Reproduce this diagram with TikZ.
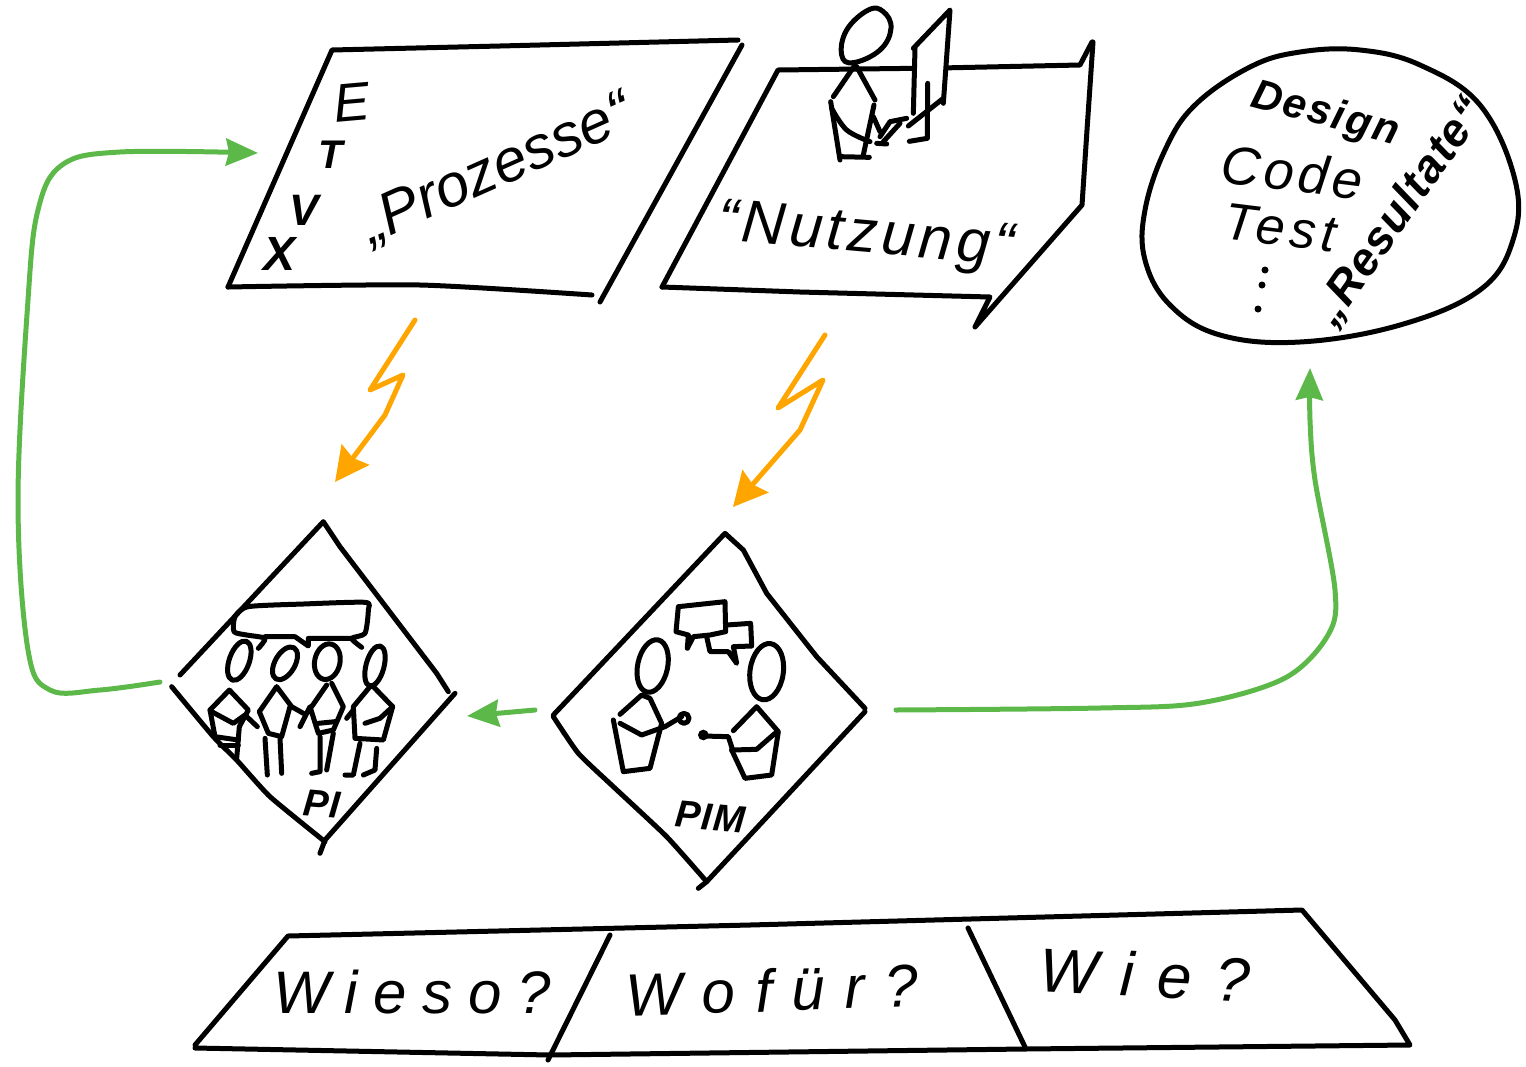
\documentclass[tikz,border=0pt]{standalone}
\usepackage{fontspec}
\setmainfont{Liberation Sans}
\usetikzlibrary{arrows.meta}
\definecolor{grn}{HTML}{5DB84A}
\definecolor{org}{HTML}{FFA500}
\tikzset{
 ink/.style={draw=black,line width=5pt,line cap=round,line join=round},
 greenarrow/.style={draw=grn,line width=5pt,line cap=round,line join=round,-{Stealth[length=32pt,width=27pt,inset=3pt]}},
 boltarrow/.style={draw=org,line width=5pt,line cap=round,line join=round,-{Stealth[length=34pt,width=34pt,inset=4pt]}},
 hand/.style={inner sep=0pt,text=black},
}
\newcommand{\lsp}[1]{\addfontfeature{LetterSpace=#1}}
\newcommand{\fs}[1]{\fontsize{#1}{#1}\selectfont}
\begin{document}
\begin{tikzpicture}[x=1pt,y=-1pt]
\useasboundingbox (0,0) rectangle (1526,1066);
% frame Prozesse
\draw[ink] (228,287)--(332,50)--(500,46)--(738,40);
\draw[ink] (742,45)--(600,302);
\draw[ink] plot[smooth,tension=.4] coordinates {(228,287)(420,285)(592,295)};
% frame Nutzung
\draw[ink] (662,287)--(778,70)--(940,68)--(1080,65)--(1092,42);
\draw[ink] (1093,42)--(1087,130)--(1082,205)--(975,327)--(990,297)--(800,292)--(662,287);
% person + screen
\begin{scope}[shift={(780,0)},scale=1/3]
\fill[white] (400,140) -- (510,30) -- (490,310) -- (400,340) -- cycle;
\draw[ink] plot[smooth cycle,tension=.7] coordinates {(265,30)(310,35)(333,85)(300,150)(220,188)(185,165)(200,90)};
\draw[ink] (225,195)--(160,290);
\draw[ink] (230,200)--(285,300);
\draw[ink] (152,305)--(180,480);
\draw[ink] plot[smooth,tension=.6] coordinates {(155,325)(200,390)(270,425)};
\draw[ink] (180,470)--(268,472);
\draw[ink] (282,315)--(250,465);
\draw[ink] (280,350)--(300,395);
\draw[ink] (290,430)--(320,432);
\draw[ink] (300,410)--(330,365)--(380,355);
\draw[ink] (360,370)--(310,425);
\draw[ink] (400,145)--(510,30)--(490,310);
\draw[ink] (405,145)--(400,340);
\draw[ink] (385,378)--(490,295);
\draw[ink] (443,250)--(442,415)--(388,424);
\end{scope}
% blob
\draw[ink] plot[smooth cycle,tension=.65] coordinates {(1195,105)(1250,67)(1300,52)(1360,50)(1420,65)(1480,105)(1515,180)(1513,240)(1480,290)(1400,325)(1300,342)(1220,335)(1170,305)(1145,260)(1145,210)(1165,150)};
% Texts
\node[hand,font=\itshape\fs{54},rotate=5] (tE) at (352,102) {E};
\node[hand,font=\itshape\bfseries\fs{40}] (tT) at (331,155) {T};
\node[hand,font=\itshape\bfseries\fs{44}] (tV) at (304,210) {V};
\node[hand,font=\itshape\bfseries\fs{48}] (tX) at (280,254) {X};
\node[hand,font=\itshape\fs{60},rotate=24] (tP) at (497,170) {„Prozesse“};
\node[hand,font=\itshape\fs{60}\lsp{7},rotate=-5] (tN) at (866,238) {“Nutzung“};
\node[hand,font=\itshape\bfseries\fs{42}\lsp{5},rotate=-15] (tD) at (1325,115) {Design};
\node[hand,font=\itshape\fs{54}\lsp{8},rotate=-7] (tC) at (1292,172) {Code};
\node[hand,font=\itshape\fs{52}\lsp{10},rotate=-7] (tTe) at (1280,228) {Test};
\fill (1265,270) circle (3.5pt) (1262,285) circle (3.5pt) (1258,309) circle (3.5pt);
\node[hand,font=\itshape\bfseries\fs{46}\lsp{3},rotate=55] (tR) at (1400,212) {„Resultate“};
% bolts
\coordinate (bolt1s) at (415,320);
\coordinate (piTop) at (335,482);
\draw[boltarrow] (bolt1s)--(370,390)--(403,375)--(385,415)--(piTop);
\coordinate (bolt2s) at (825,335);
\coordinate (pimTop) at (733,507);
\draw[boltarrow] (bolt2s)--(778,408)--(823,380)--(800,430)--(pimTop);
% PI diamond
\begin{scope}[shift={(170,510)},scale=1/3]
\draw[ink] (30,495)--(460,35)--(510,110)--(800,490)--(835,545);
\draw[ink] (855,550)--(465,990)--(450,1030);
\draw[ink] plot[smooth,tension=.3] coordinates {(5,530)(130,680)(200,750)(300,860)(465,995)};
\draw[ink] plot[smooth,tension=.4] coordinates {(265,415)(285,385)(230,375)(192,365)(195,320)(235,290)(400,282)(585,277)(595,300)(585,370)(545,385)(575,412)};
\draw[ink] (285,380)--(375,380)--(415,408)--(415,385)--(545,385);
\draw[ink,rotate around={-20:(208,452)}] (208,452) ellipse (30 and 62);
\draw[ink,rotate around={-30:(345,460)}] (345,460) ellipse (30 and 54);
\draw[ink,rotate around={-12:(472,455)}] (472,455) ellipse (38 and 54);
\draw[ink,rotate around={-15:(615,468)}] (615,468) ellipse (27 and 62);
% p1
\draw[ink] (120,600)--(178,540)--(235,600)--(208,650)--(200,745);
\draw[ink] (120,600)--(135,680)--(205,690);
\draw[ink] (125,605)--(190,640)--(225,615)--(262,650);
\draw[ink] (150,705)--(205,705);
% p2
\draw[ink] (268,605)--(320,530)--(365,590)--(400,610);
\draw[ink] (268,605)--(295,670)--(335,680)--(360,590);
\draw[ink] (285,685)--(292,795);
\draw[ink] (330,685)--(335,790);
% p3
\draw[ink] (425,590)--(470,525);
\draw[ink] (485,520)--(520,590)--(490,660)--(445,670)--(420,590)--(390,650);
\draw[ink] (445,640)--(495,635);
\draw[ink] (450,680)--(450,785)--(425,790);
\draw[ink] (490,670)--(470,780);
% p4
\draw[ink] (600,530)--(550,590)--(555,685)--(640,690)--(668,590)--(610,530);
\draw[ink] (550,600)--(530,625);
\draw[ink] (585,640)--(630,625)--(668,590);
\draw[ink] (570,700)--(550,795)--(525,795);
\draw[ink] (620,715)--(615,780)--(580,795);
\end{scope}
\node[hand,font=\itshape\bfseries\fs{38},rotate=-5] (tPI) at (322,804) {PI};
% PIM diamond
\begin{scope}[shift={(550,520)},scale=1/3]
\draw[ink] (10,585)--(525,40)--(580,90)--(650,220)--(800,410)--(945,565);
\draw[ink] (945,575)--(470,1085)--(445,1105);
\draw[ink] plot[smooth,tension=.3] coordinates {(10,590)(85,700)(190,800)(350,950)(470,1085)};
\draw[ink] (385,260)--(525,245)--(527,335)--(480,345)--(430,350)--(412,385)--(415,345)--(378,335)--cycle;
\draw[ink] (530,315)--(602,310)--(605,378)--(550,380)--(560,430)--(535,395)--(480,395)--(470,350);
\draw[ink,rotate around={-12:(308,438)}] (308,438) ellipse (45 and 80);
\draw[ink,rotate around={-8:(650,455)}] (650,455) ellipse (50 and 85);
% left person
\draw[ink] (210,583)--(275,525)--(300,535)--(335,610)--(300,745)--(220,755)--(190,600);
\draw[ink] (210,610)--(275,645)--(345,620)--(395,590);
\draw[ink] (402,595) circle (15);
% right person
\draw[ink] (550,632)--(620,560)--(685,635)--(665,765)--(585,775)--(545,690);
\draw[ink] (545,690)--(620,688)--(675,640);
\draw[ink] (460,648)--(535,650)--(548,690);
\fill (460,645) circle (16);
\end{scope}
\node[hand,font=\itshape\bfseries\fs{38}\lsp{3},rotate=-5] (tPIM) at (710,817) {PIM};
% green arrows
\coordinate (piLeft) at (160,682);
\coordinate (prozIn) at (258,153);
\draw[greenarrow] plot[smooth,tension=.6] coordinates {(piLeft)(100,690)(50,690)(28,650)(18,500)(28,300)(38,210)(62,165)(120,152)(prozIn)};
\coordinate (pimLeft) at (535,710);
\coordinate (piRight) at (467,716);
\draw[greenarrow] (pimLeft)--(piRight);
\coordinate (pimRight) at (896,710);
\coordinate (resIn) at (1310,368);
\draw[greenarrow] plot[smooth,tension=.55] coordinates {(pimRight)(1100,708)(1200,703)(1285,678)(1328,635)(1335,590)(1315,480)(1310,420)(resIn)};
% bottom frame
\draw[ink] (195,1045)--(288,936)--(750,925)--(1302,910)--(1395,1020)--(1410,1045)--(1025,1049)--(550,1055)--(195,1048);
\draw[ink] (610,935)--(548,1060);
\draw[ink] (968,928)--(1025,1047);
\node[hand,font=\itshape\fs{60}\lsp{26}] (tW1) at (412,992) {Wieso?};
\node[hand,font=\itshape\fs{60}\lsp{33},rotate=2] (tW2) at (772,990) {Wofür?};
\node[hand,font=\itshape\fs{62}\lsp{38},rotate=-3] (tW3) at (1145,975) {Wie?};
\end{tikzpicture}
\end{document}
